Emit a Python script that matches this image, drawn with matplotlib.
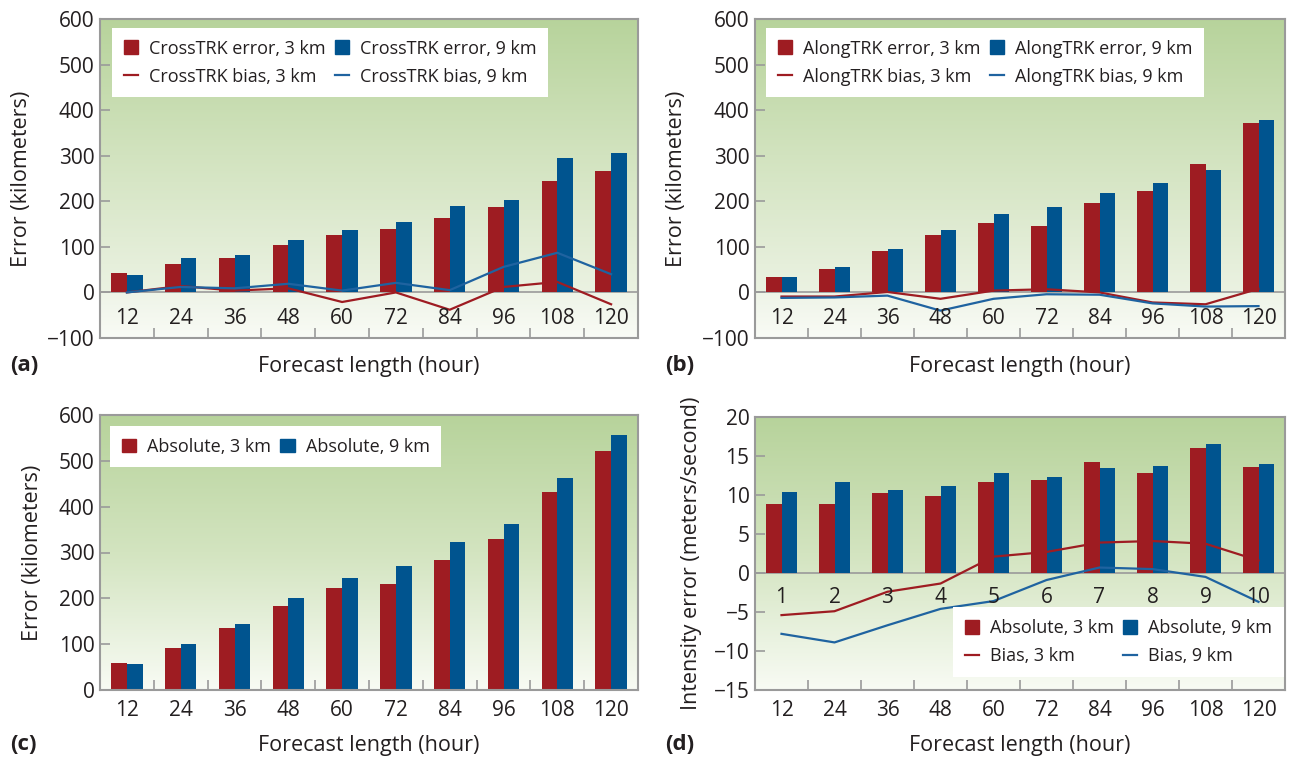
import numpy as np
import matplotlib
matplotlib.use("Agg")
import matplotlib.pyplot as plt
from matplotlib.colors import LinearSegmentedColormap
from matplotlib.patches import Patch
from matplotlib.lines import Line2D

plt.rcParams['font.family'] = ['Open Sans', 'DejaVu Sans']
plt.rcParams['font.size'] = 13

hours = [12, 24, 36, 48, 60, 72, 84, 96, 108, 120]
days = [1, 2, 3, 4, 5, 6, 7, 8, 9, 10]

# (a) cross-track
cross_err_3 = [42, 62, 75, 105, 125, 140, 164, 188, 244, 266]
cross_err_9 = [38, 75, 83, 114, 138, 155, 190, 203, 294, 307]
cross_bias_3 = [0, 14, 4, 9, -21, 0, -38, 12, 23, -26]
cross_bias_9 = [0, 12, 9, 19, 4, 21, 5, 56, 87, 40]

# (b) along-track
along_err_3 = [33, 51, 92, 127, 153, 146, 196, 222, 281, 372]
along_err_9 = [33, 55, 96, 138, 172, 188, 218, 240, 268, 379]
along_bias_3 = [-9, -9, 1, -14, 4, 7, 0, -22, -26, 8]
along_bias_9 = [-12, -11, -7, -40, -14, -4, -5, -24, -31, -30]

# (c) absolute track error
abs_err_3 = [58, 91, 136, 184, 223, 232, 284, 330, 432, 521]
abs_err_9 = [56, 101, 143, 201, 245, 271, 323, 362, 462, 556]

# (d) intensity
int_err_3 = [8.9, 8.9, 10.3, 9.9, 11.7, 11.9, 14.2, 12.8, 16.0, 13.6]
int_err_9 = [10.4, 11.7, 10.7, 11.1, 12.8, 12.3, 13.5, 13.7, 16.6, 14.0]
int_bias_3 = [-5.4, -4.9, -2.4, -1.35, 2.1, 2.7, 3.9, 4.1, 3.75, 1.6]
int_bias_9 = [-7.8, -8.9, -6.7, -4.6, -3.6, -0.9, 0.7, 0.5, -0.5, -3.7]

RED = '#9e1c22'
BLUE = '#00548f'
LBLUE = '#1f63a0'
GRAY = '#9a9a9a'
TXT = '#231f20'
TICK_FS = 15
LAB_FS = 15.5
LEG_FS = 13

W, H = 1291, 758
fig = plt.figure(figsize=(W / 100, H / 100), dpi=100)


def px_axes(left, top, right, bottom):
    return fig.add_axes([left / W, 1 - bottom / H, (right - left) / W, (bottom - top) / H])


green = LinearSegmentedColormap.from_list('g', ['#b7d39b', '#d3e4c0', '#f8fbf4'])


def background(ax, ymin, ymax, split=None):
    grad = np.linspace(0, 1, 256).reshape(-1, 1)
    if split is None:
        ax.imshow(grad, cmap=green, aspect='auto', extent=(-0.5, 9.5, ymin, ymax),
                  zorder=0, origin='upper')
    else:
        top = LinearSegmentedColormap.from_list('t', ['#b7d39b', '#d2e3bf', '#ebf2e2'])
        bot = LinearSegmentedColormap.from_list('b', ['#eef4e7', '#f9fbf6'])
        ax.imshow(grad, cmap=top, aspect='auto', extent=(-0.5, 9.5, split, ymax),
                  zorder=0, origin='upper')
        ax.imshow(grad, cmap=bot, aspect='auto', extent=(-0.5, 9.5, ymin, split),
                  zorder=0, origin='upper')
        ax.axhline(split, color=GRAY, lw=1.2, zorder=1)


def style(ax, ymin, ymax, step, ylabel='Error (kilometers)', ypad=11):
    x = np.arange(10)
    ax.set_xlim(-0.5, 9.5)
    ax.set_ylim(ymin, ymax)
    ax.set_yticks(np.arange(ymin, ymax + 1, step))
    ax.set_xticks(np.arange(0.5, 9.5, 1.0))
    ax.set_xticklabels([])
    for s in ax.spines.values():
        s.set_color(GRAY)
        s.set_linewidth(1.5)
    ax.tick_params(axis='both', direction='in', color=GRAY, width=1.2, length=7,
                   labelsize=TICK_FS, labelcolor=TXT, pad=4)
    ax.set_ylabel(ylabel, fontsize=LAB_FS, color=TXT, labelpad=ypad)
    return x


def bars(ax, v3, v9):
    x = np.arange(10)
    w = 0.29
    ax.bar(x - w / 2, v3, w, color=RED, zorder=2)
    ax.bar(x + w / 2, v9, w, color=BLUE, zorder=2)


def legend(ax, labels, loc, anchor, with_lines=True):
    h3 = Patch(color=RED)
    h9 = Patch(color=BLUE)
    if with_lines:
        l3 = Line2D([], [], color=RED, lw=1.6)
        l9 = Line2D([], [], color=LBLUE, lw=1.6)
        handles = [h3, l3, h9, l9]
        labs = [labels[0], labels[2], labels[1], labels[3]]
    else:
        handles = [h3, h9]
        labs = labels
    lg = ax.legend(handles, labs, ncol=2, loc=loc, bbox_to_anchor=anchor, frameon=True,
                   fancybox=False, edgecolor='white', facecolor='white', framealpha=1,
                   handlelength=0.8, handleheight=0.8, handletextpad=0.6,
                   columnspacing=0.5, labelspacing=0.55, borderpad=0.65,
                   borderaxespad=0, fontsize=LEG_FS)
    lg.get_frame().set_linewidth(0)
    for t in lg.get_texts():
        t.set_color(TXT)
    lg.set_zorder(5)


def inner_labels(ax, labels, y):
    for i, lab in enumerate(labels):
        ax.text(i, y, str(lab), ha='center', va='center', fontsize=TICK_FS, color=TXT, zorder=4)


# (a)
ax = px_axes(100, 19, 638, 338)
background(ax, -100, 600, split=0)
x = style(ax, -100, 600, 100)
bars(ax, cross_err_3, cross_err_9)
ax.plot(x, cross_bias_3, color=RED, lw=1.6, zorder=3)
ax.plot(x, cross_bias_9, color=LBLUE, lw=1.6, zorder=3)
inner_labels(ax, hours, -57)
ax.set_xlabel('Forecast length (hour)', fontsize=LAB_FS, color=TXT, labelpad=9)
legend(ax, ['CrossTRK error, 3 km', 'CrossTRK error, 9 km',
            'CrossTRK bias, 3 km', 'CrossTRK bias, 9 km'], 'upper left', (0.022, 0.972))

# (b)
ax = px_axes(755, 19, 1285, 338)
background(ax, -100, 600, split=0)
x = style(ax, -100, 600, 100)
bars(ax, along_err_3, along_err_9)
ax.plot(x, along_bias_3, color=RED, lw=1.6, zorder=3)
ax.plot(x, along_bias_9, color=LBLUE, lw=1.6, zorder=3)
inner_labels(ax, hours, -57)
ax.set_xlabel('Forecast length (hour)', fontsize=LAB_FS, color=TXT, labelpad=9)
legend(ax, ['AlongTRK error, 3 km', 'AlongTRK error, 9 km',
            'AlongTRK bias, 3 km', 'AlongTRK bias, 9 km'], 'upper left', (0.021, 0.972))

# (c)
ax = px_axes(100, 415, 638, 690)
background(ax, 0, 600)
x = style(ax, 0, 600, 100)
bars(ax, abs_err_3, abs_err_9)
ax.set_xticks(x, minor=True)
ax.set_xticklabels([str(h) for h in hours], minor=True)
ax.tick_params(axis='x', which='minor', length=0, pad=7, labelsize=TICK_FS, labelcolor=TXT)
ax.set_xlabel('Forecast length (hour)', fontsize=LAB_FS, color=TXT, labelpad=10)
legend(ax, ['Absolute, 3 km', 'Absolute, 9 km'], 'upper left', (0.019, 0.96), with_lines=False)

# (d)
ax = px_axes(755, 417, 1285, 690)
background(ax, -15, 20)
x = style(ax, -15, 20, 5, ylabel='Intensity error (meters/second)', ypad=8)
ax.axhline(0, color=GRAY, lw=1.2, zorder=1)
bars(ax, int_err_3, int_err_9)
ax.plot(x, int_bias_3, color=RED, lw=1.6, zorder=3)
ax.plot(x, int_bias_9, color=LBLUE, lw=1.6, zorder=3)
inner_labels(ax, days, -3.2)
ax.set_xticks(x, minor=True)
ax.set_xticklabels([str(h) for h in hours], minor=True)
ax.tick_params(axis='x', which='minor', length=0, pad=7, labelsize=TICK_FS, labelcolor=TXT)
ax.set_xlabel('Forecast length (hour)', fontsize=LAB_FS, color=TXT, labelpad=10)
legend(ax, ['Absolute, 3 km', 'Absolute, 9 km', 'Bias, 3 km', 'Bias, 9 km'],
       'lower right', (0.998, 0.048))

# panel letters
for lab, (px, py) in zip(['(a)', '(b)', '(c)', '(d)'],
                         [(10, 365), (665, 365), (10, 745), (665, 745)]):
    fig.text(px / W, 1 - py / H, lab, fontsize=16, fontweight='bold', color=TXT,
             ha='left', va='center')

fig.savefig('out.png', dpi=100)
